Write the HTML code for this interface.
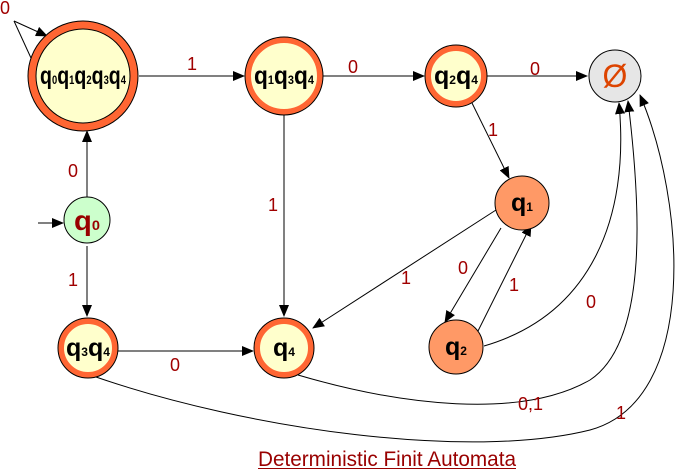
<!DOCTYPE html>
<html><head><style>
html,body{margin:0;padding:0;background:#fff;}
svg{display:block;font-family:"Liberation Sans",sans-serif;}
</style></head><body>
<svg width="681" height="469" viewBox="0 0 681 469">
<defs><marker id="a" markerWidth="12" markerHeight="10" refX="11" refY="5" orient="auto" markerUnits="userSpaceOnUse"><path d="M0,0 L12,5 L0,10 z" fill="#000"/></marker></defs>
<g stroke="#000" stroke-width="1" fill="none">
<path d="M14,21 L47,36" marker-end="url(#a)"/>
<path d="M14,21 L31,58"/>
<path d="M38,223 L63,223" marker-end="url(#a)"/>
<path d="M87,197 L87,131" marker-end="url(#a)"/>
<path d="M87,246 L87,316" marker-end="url(#a)"/>
<path d="M139,76 L244,76" marker-end="url(#a)"/>
<path d="M323,76 L424,76" marker-end="url(#a)"/>
<path d="M487,76 L587,76" marker-end="url(#a)"/>
<path d="M472,103 L509,178" marker-end="url(#a)"/>
<path d="M284,115 L284,316" marker-end="url(#a)"/>
<path d="M496,210 L313,328" marker-end="url(#a)"/>
<path d="M501,228 L445,322" marker-end="url(#a)"/>
<path d="M478,331 L531,225" marker-end="url(#a)"/>
<path d="M118,351 L253,351" marker-end="url(#a)"/>
<path d="M484,346 C590,315 630,220 619,103" marker-end="url(#a)"/>
<path d="M298,375 C400,405 520,420 590,380 C650,340 640,200 628,101" marker-end="url(#a)"/>
<path d="M96,377 C250,430 470,460 590,430 C700,400 685,200 640,95" marker-end="url(#a)"/>
</g>
<circle cx="83" cy="76" r="51" fill="#ffffcc" stroke="#ff6633" stroke-width="8"/>
<circle cx="83" cy="76" r="55" fill="none" stroke="#000" stroke-width="1"/>
<circle cx="83" cy="76" r="47" fill="none" stroke="#000" stroke-width="1"/>
<circle cx="284" cy="76" r="36" fill="#ffffcc" stroke="#ff6633" stroke-width="6"/>
<circle cx="284" cy="76" r="39" fill="none" stroke="#000"/>
<circle cx="456" cy="76" r="28" fill="#ffffcc" stroke="#ff6633" stroke-width="6"/>
<circle cx="456" cy="76" r="31" fill="none" stroke="#000"/>
<circle cx="615" cy="76" r="26" fill="#e6e6e6" stroke="#000"/>
<circle cx="522" cy="203" r="27" fill="#ff9966" stroke="#000"/>
<circle cx="87" cy="220" r="23" fill="#ccffcc" stroke="#000"/>
<circle cx="88" cy="348" r="27" fill="#ffffcc" stroke="#ff6633" stroke-width="6"/>
<circle cx="88" cy="348" r="30" fill="none" stroke="#000"/>
<circle cx="284" cy="348" r="27" fill="#ffffcc" stroke="#ff6633" stroke-width="6"/>
<circle cx="284" cy="348" r="30" fill="none" stroke="#000"/>
<circle cx="456" cy="347" r="27" fill="#ff9966" stroke="#000"/>
<g style="font-weight:bold;fill:#000;font-size:25px" text-anchor="middle">
<text x="83" y="84" textLength="86" lengthAdjust="spacingAndGlyphs">q<tspan style="font-size:12px">0</tspan>q<tspan style="font-size:12px">1</tspan>q<tspan style="font-size:12px">2</tspan>q<tspan style="font-size:12px">3</tspan>q<tspan style="font-size:12px">4</tspan></text>
<text x="284" y="84" textLength="60" lengthAdjust="spacingAndGlyphs">q<tspan style="font-size:12px">1</tspan>q<tspan style="font-size:12px">3</tspan>q<tspan style="font-size:12px">4</tspan></text>
<text x="456" y="84" textLength="44" lengthAdjust="spacingAndGlyphs">q<tspan style="font-size:12px">2</tspan>q<tspan style="font-size:12px">4</tspan></text>
<text x="522" y="211" textLength="22" lengthAdjust="spacingAndGlyphs">q<tspan style="font-size:12px">1</tspan></text>
<text x="88" y="356" textLength="44" lengthAdjust="spacingAndGlyphs">q<tspan style="font-size:12px">3</tspan>q<tspan style="font-size:12px">4</tspan></text>
<text x="284" y="356" textLength="22" lengthAdjust="spacingAndGlyphs">q<tspan style="font-size:12px">4</tspan></text>
<text x="456" y="355" textLength="22" lengthAdjust="spacingAndGlyphs">q<tspan style="font-size:12px">2</tspan></text>
<text x="87" y="230" textLength="26" lengthAdjust="spacingAndGlyphs" style="fill:#990000;font-size:28px">q<tspan style="font-size:14px">0</tspan></text>
</g>
<text x="615" y="87" text-anchor="middle" style="font-size:32px;fill:#dd4400">Ø</text>
<g style="fill:#a00000;font-size:18px">
<text x="0" y="14">0</text>
<text x="68" y="177">0</text>
<text x="68" y="286">1</text>
<text x="187" y="70">1</text>
<text x="348" y="73">0</text>
<text x="530" y="75">0</text>
<text x="488" y="136">1</text>
<text x="268" y="211">1</text>
<text x="401" y="284">1</text>
<text x="458" y="274">0</text>
<text x="509" y="291">1</text>
<text x="586" y="308">0</text>
<text x="170" y="371">0</text>
<text x="518" y="410">0,1</text>
<text x="616" y="419">1</text>
</g>
<text x="387" y="466" text-anchor="middle" textLength="258" lengthAdjust="spacingAndGlyphs" style="font-size:21px;fill:#990000;text-decoration:underline">Deterministic Finit Automata</text>
</svg>
</body></html>
